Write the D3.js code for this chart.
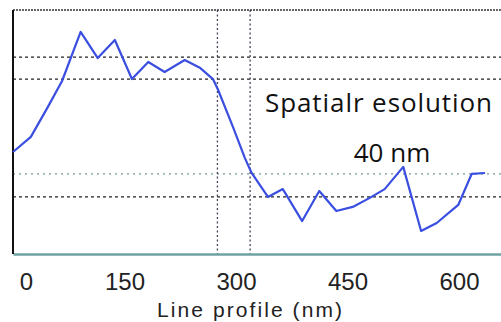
<!DOCTYPE html>
<html>
<head>
<meta charset="utf-8">
<script src="https://cdn.jsdelivr.net/npm/d3@7"></script>
<style>
  html, body { margin: 0; padding: 0; background: #fff; }
  svg { display: block; }
</style>
</head>
<body>
<div id="chart"></div>
<script>
// line profile across the edge, position in nm and intensity in arbitrary units
const positions = [0, 24, 46, 66, 91, 114, 137, 160, 182, 204, 231, 252, 269, 276, 296, 312,
    321, 343, 363, 389, 412, 435, 457, 480, 500, 525, 549, 570, 599, 617, 635];
const intensity = [41.8, 48.0, 59.8, 70.9, 91.0, 80.3, 87.7, 71.7, 78.7, 74.6, 79.5, 76.2, 71.7, 67.2, 52.0, 39.3,
    33.2, 23.4, 26.6, 13.5, 25.8, 17.6, 19.3, 23.0, 26.6, 35.7, 9.4, 12.7, 20.1, 32.8, 33.2];

const xTicks = [0, 150, 300, 450, 600];
const edgeMarks = [275, 319];          // vertical guides, ~40 nm apart
const levelMarks = [80.7, 71.7, 23.4]; // dark dashed guides
const levelMarksLight = [32.8];        // light dotted guide

const w = 501, h = 322;
const plotLeft = 13, plotTop = 10, plotBottom = 254;

const x = d3.scaleLinear().domain([0, 656.5]).range([plotLeft, w]);
const y = d3.scaleLinear().domain([0, 100]).range([plotBottom, plotTop]);

const svg = d3.select('#chart').append('svg')
    .attr('width', w)
    .attr('height', h);

// top border
svg.append('line')
    .attr('x1', plotLeft).attr('x2', w)
    .attr('y1', plotTop).attr('y2', plotTop)
    .attr('stroke', '#333')
    .attr('stroke-width', 1.5)
    .attr('stroke-dasharray', '2,1');

// horizontal guides
svg.append('g')
    .selectAll('line')
    .data(levelMarks)
    .enter()
    .append('line')
    .attr('x1', plotLeft).attr('x2', w)
    .attr('y1', d => y(d)).attr('y2', d => y(d))
    .attr('stroke', '#222')
    .attr('stroke-width', 1.3)
    .attr('stroke-dasharray', '3,3');

svg.append('g')
    .selectAll('line')
    .data(levelMarksLight)
    .enter()
    .append('line')
    .attr('x1', plotLeft).attr('x2', w)
    .attr('y1', d => y(d)).attr('y2', d => y(d))
    .attr('stroke', '#6f9a9a')
    .attr('stroke-width', 1.3)
    .attr('stroke-dasharray', '2,4');

// vertical guides
svg.append('g')
    .selectAll('line')
    .data(edgeMarks)
    .enter()
    .append('line')
    .attr('x1', d => x(d)).attr('x2', d => x(d))
    .attr('y1', plotTop).attr('y2', plotBottom)
    .attr('stroke', '#445')
    .attr('stroke-width', 1.3)
    .attr('stroke-dasharray', '2,2.5');

// x axis
const xAxis = svg.append('g')
    .attr('transform', `translate(0,${plotBottom})`)
    .call(d3.axisBottom(x).tickValues(xTicks).tickSize(0).tickPadding(19));

xAxis.select('.domain')
    .attr('stroke', '#6fa3a3')
    .attr('stroke-width', 2.5);

xAxis.selectAll('text')
    .style('font-family', '"Liberation Sans", Arial, sans-serif')
    .style('font-size', '24px')
    .attr('fill', '#222')
    .attr('dx', d => d === 0 ? 13 : 0);

// left axis line
svg.append('line')
    .attr('x1', plotLeft).attr('x2', plotLeft)
    .attr('y1', plotTop).attr('y2', plotBottom)
    .attr('stroke', '#111')
    .attr('stroke-width', 2);

// profile
const line = d3.line()
    .x((d, i) => x(positions[i]))
    .y(d => y(d));

svg.append('path')
    .datum(intensity)
    .attr('d', line)
    .attr('fill', 'none')
    .attr('stroke', '#3a4ee0')
    .attr('stroke-width', 2.2)
    .attr('stroke-linejoin', 'round');

// labels
svg.append('text')
    .text('Line profile (nm)')
    .attr('x', 157)
    .attr('y', 317)
    .attr('textLength', 185)
    .attr('lengthAdjust', 'spacing')
    .style('font-family', '"Liberation Sans", Arial, sans-serif')
    .style('font-size', '21px')
    .attr('fill', '#222');

svg.append('text')
    .text('Spatialr esolution')
    .attr('x', 265)
    .attr('y', 112)
    .attr('textLength', 227)
    .attr('lengthAdjust', 'spacing')
    .style('font-family', '"Open Sans", "Noto Sans", sans-serif')
    .style('font-size', '26px')
    .attr('fill', '#111');

svg.append('text')
    .text('40 nm')
    .attr('x', 392)
    .attr('y', 162)
    .attr('text-anchor', 'middle')
    .style('font-family', '"Open Sans", "Noto Sans", sans-serif')
    .style('font-size', '26px')
    .attr('fill', '#111');
</script>
</body>
</html>
